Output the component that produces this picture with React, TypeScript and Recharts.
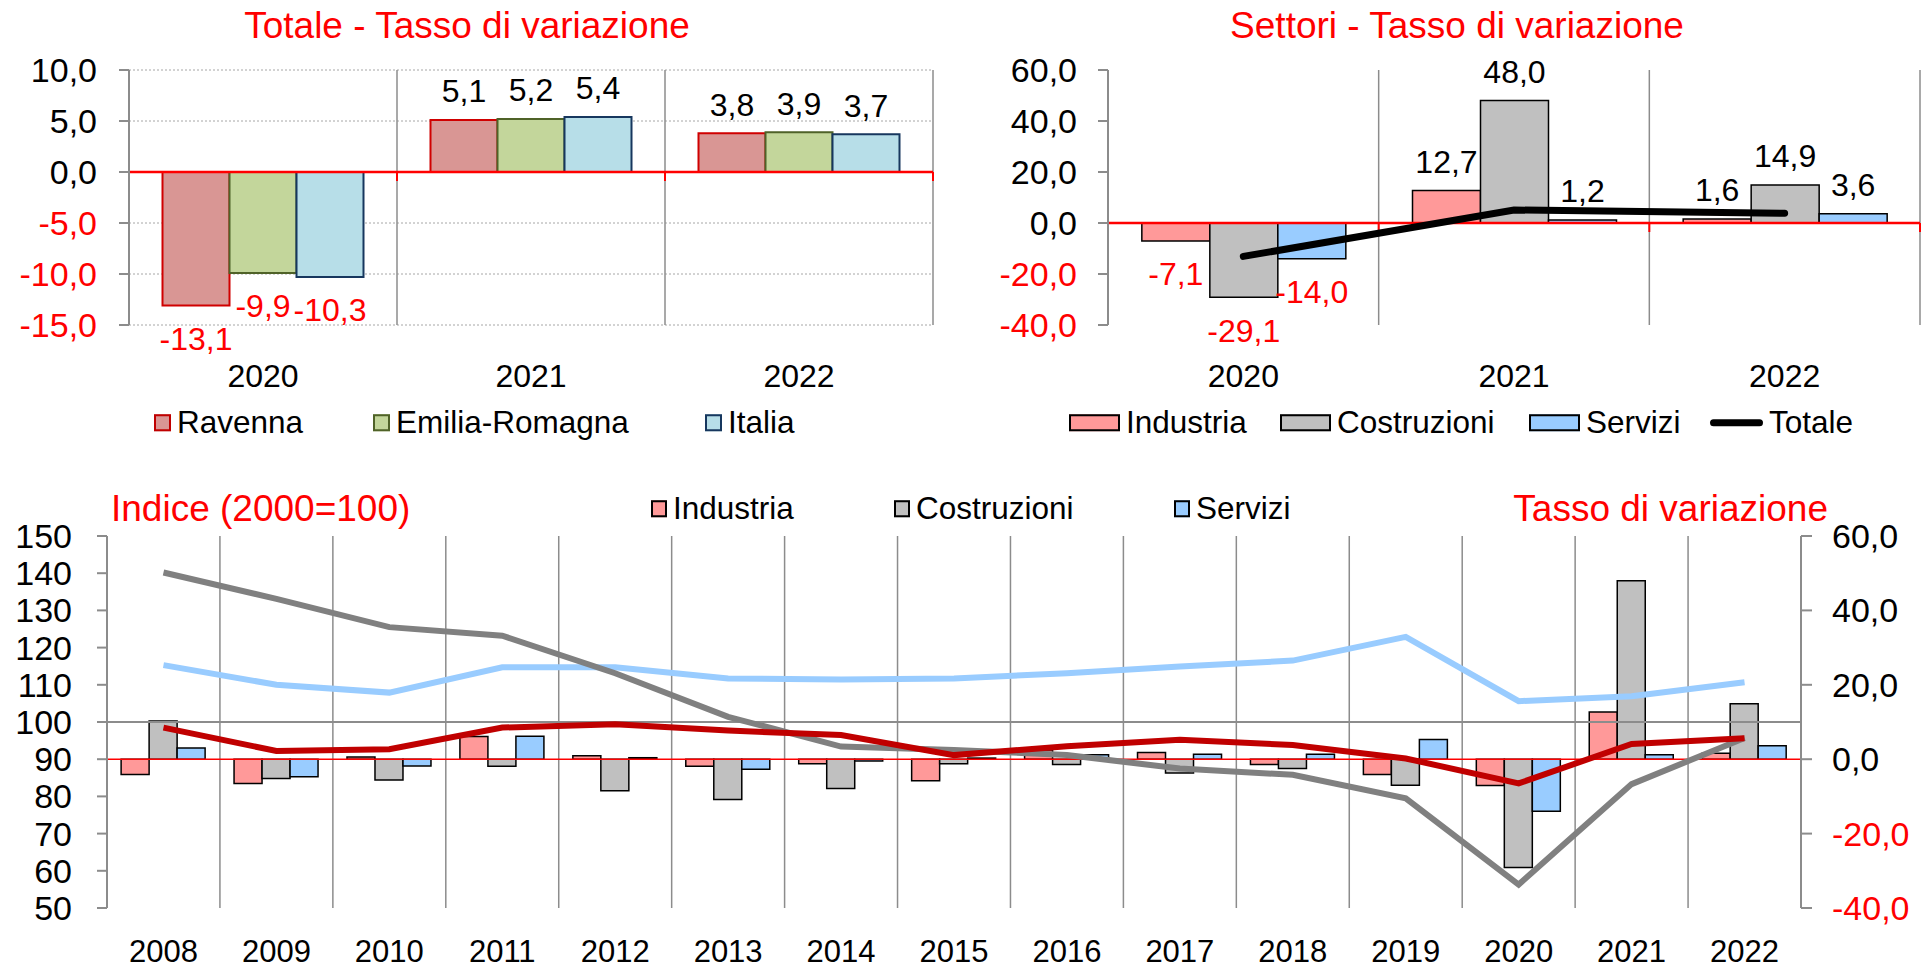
import { Bar, CartesianGrid, ComposedChart, LabelList, Line, ReferenceLine, XAxis, YAxis } from 'recharts';

const RED = '#FF0000';
const FONT = "'Liberation Sans', Arial, sans-serif";

// Totale - Tasso di variazione
const periodYears = ['2020', '2021', '2022'];
const ravenna = [-13.1, 5.1, 3.8];
const emiliaRomagna = [-9.9, 5.2, 3.9];
const italia = [-10.3, 5.4, 3.7];

// Settori - Tasso di variazione
const industriaVar = [-7.1, 12.7, 1.6];
const costruzioniVar = [-29.1, 48.0, 14.9];
const serviziVar = [-14.0, 1.2, 3.6];
const totaleVar = [-13.1, 5.1, 3.8];

// serie storica
const years = ['2008', '2009', '2010', '2011', '2012', '2013', '2014', '2015', '2016', '2017', '2018', '2019', '2020', '2021', '2022'];
const industriaTasso = [-4.1, -6.5, 0.6, 6.1, 0.9, -1.9, -1.2, -5.8, 2.5, 1.8, -1.4, -4.1, -7.1, 12.7, 1.6];
const costruzioniTasso = [10.3, -5.2, -5.6, -1.9, -8.5, -10.8, -7.9, -1.2, -1.4, -3.7, -2.5, -7.0, -29.1, 48.0, 14.9];
const serviziTasso = [3.0, -4.7, -1.8, 6.2, 0.4, -2.7, -0.5, 0.3, 1.2, 1.3, 1.3, 5.3, -14.0, 1.2, 3.6];
const industriaIndice = [98.5, 92.2, 92.7, 98.5, 99.4, 97.7, 96.5, 91.1, 93.5, 95.2, 93.8, 90.2, 83.5, 94.1, 95.6];
const costruzioniIndice = [140.2, 133.1, 125.5, 123.2, 113.1, 101.4, 93.4, 92.5, 91.1, 87.5, 85.8, 79.5, 56.3, 83.3, 95.7];
const serviziIndice = [115.3, 110.0, 107.9, 114.7, 114.7, 111.7, 111.4, 111.7, 113.1, 114.9, 116.5, 122.9, 105.6, 106.9, 110.7];

const totTicks = [-15, -10, -5, 0, 5, 10];
const setTicks = [-40, -20, 0, 20, 40, 60];
const idxTicks = [50, 60, 70, 80, 90, 100, 110, 120, 130, 140, 150];

const fmt = (v: number) => v.toFixed(1).replace('.', ',');

const totData = periodYears.map((year, i) => ({ year, ravenna: ravenna[i], er: emiliaRomagna[i], italia: italia[i] }));
const setData = periodYears.map((year, i) => ({
  year,
  industria: industriaVar[i],
  costruzioni: costruzioniVar[i],
  servizi: serviziVar[i],
  totale: totaleVar[i],
}));
const histData = years.map((year, i) => ({
  year,
  indT: industriaTasso[i],
  cosT: costruzioniTasso[i],
  serT: serviziTasso[i],
  indI: industriaIndice[i],
  cosI: costruzioniIndice[i],
  serI: serviziIndice[i],
}));

function ValueTick(props: any) {
  const { x, y, payload, textAnchor, fontSize = 34, decimals = true } = props;
  const v = Number(payload.value);
  return (
    <text x={x} y={y} dy="0.355em" textAnchor={textAnchor} fontSize={fontSize} fontFamily={FONT} fill={v < 0 ? RED : '#000'}>
      {decimals ? fmt(v) : String(v)}
    </text>
  );
}

function BarValueLabel(props: any) {
  const { x, y, width, height, value } = props;
  const v = Number(value);
  const top = Math.min(y, y + height);
  const bottom = Math.max(y, y + height);
  const cx = x + width / 2;
  if (v >= 0) {
    return (
      <text x={cx} y={top - 29} dy="0.355em" textAnchor="middle" fontSize={32} fontFamily={FONT} fill="#000">
        {fmt(v)}
      </text>
    );
  }
  return (
    <text x={cx} y={bottom + 33} dy="0.355em" textAnchor="middle" fontSize={32} fontFamily={FONT} fill={RED}>
      {fmt(v)}
    </text>
  );
}

// red category axis drawn on the zero line, with small ticks between the groups
function ZeroAxis(props: any) {
  const { x1, x2, y1 } = props;
  const n = 3;
  const step = (x2 - x1) / n;
  return (
    <g>
      <line x1={x1} x2={x2} y1={y1} y2={y1} stroke={RED} strokeWidth={2.5} />
      {Array.from({ length: n + 1 }, (_, i) => (
        <line key={i} x1={x1 + step * i} x2={x1 + step * i} y1={y1} y2={y1 + 9} stroke={RED} strokeWidth={2} />
      ))}
    </g>
  );
}

const thirds = ({ offset }: any) => [1, 2, 3].map((i) => offset.left + (offset.width * i) / 3);
const fifteenths = ({ offset }: any) => Array.from({ length: 14 }, (_, i) => offset.left + (offset.width * (i + 1)) / 15);

function LegendEntry({ left, top, label, fill, stroke, w = 17, h = 17, line = false }: any) {
  return (
    <div
      style={{
        position: 'absolute',
        left,
        top,
        transform: 'translateY(-50%)',
        display: 'flex',
        alignItems: 'center',
        gap: 6,
        fontSize: 31.5,
        lineHeight: 1,
        whiteSpace: 'nowrap',
      }}
    >
      {line ? (
        <span style={{ width: w, height: 7, background: stroke, borderRadius: 4 }} />
      ) : (
        <span style={{ width: w, height: h, background: fill, border: `2px solid ${stroke}`, boxSizing: 'border-box' }} />
      )}
      <span>{label}</span>
    </div>
  );
}

function Title({ text, center, left, right, top }: any) {
  const style: any = { position: 'absolute', top, transform: 'translateY(-50%)', fontSize: 37, color: RED, lineHeight: 1, whiteSpace: 'nowrap' };
  if (center !== undefined) {
    style.left = center;
    style.transform = 'translate(-50%, -50%)';
  }
  if (left !== undefined) style.left = left;
  if (right !== undefined) style.right = 1930 - right;
  return <div style={style}>{text}</div>;
}

function TotaleChart() {
  return (
    <div style={{ position: 'absolute', left: 0, top: 0 }}>
      <ComposedChart width={960} height={450} data={totData} margin={{ top: 70, right: 27, bottom: 0, left: 0 }} barCategoryGap="12.5%" barGap={0}>
        <CartesianGrid vertical={false} stroke="#A6A6A6" strokeDasharray="2 2" />
        <CartesianGrid horizontal={false} stroke="#8C8C8C" strokeWidth={1.5} verticalCoordinatesGenerator={thirds} />
        <XAxis dataKey="year" height={125} axisLine={false} tickLine={false} tickSize={0} tickMargin={39} tick={{ fontSize: 32, fill: '#000', fontFamily: FONT }} />
        <YAxis
          domain={[-15, 10]}
          ticks={totTicks}
          width={129}
          axisLine={{ stroke: '#8C8C8C', strokeWidth: 2 }}
          tickLine={{ stroke: '#8C8C8C', strokeWidth: 2 }}
          tickSize={10}
          tickMargin={22}
          tick={<ValueTick />}
        />
        <Bar dataKey="ravenna" fill="#D99694" stroke="#D00000" strokeWidth={2} isAnimationActive={false}>
          <LabelList dataKey="ravenna" content={BarValueLabel} />
        </Bar>
        <Bar dataKey="er" fill="#C3D69B" stroke="#4F6228" strokeWidth={2} isAnimationActive={false}>
          <LabelList dataKey="er" content={BarValueLabel} />
        </Bar>
        <Bar dataKey="italia" fill="#B7DEE8" stroke="#17375E" strokeWidth={2} isAnimationActive={false}>
          <LabelList dataKey="italia" content={BarValueLabel} />
        </Bar>
        <ReferenceLine y={0} shape={ZeroAxis} />
      </ComposedChart>
    </div>
  );
}

function SettoriChart() {
  return (
    <div style={{ position: 'absolute', left: 960, top: 0 }}>
      <ComposedChart width={970} height={450} data={setData} margin={{ top: 70, right: 10, bottom: 0, left: 0 }} barCategoryGap="12.5%" barGap={0}>
        <CartesianGrid horizontal={false} stroke="#8C8C8C" strokeWidth={1.5} verticalCoordinatesGenerator={thirds} />
        <XAxis dataKey="year" height={125} axisLine={false} tickLine={false} tickSize={0} tickMargin={39} tick={{ fontSize: 32, fill: '#000', fontFamily: FONT }} />
        <YAxis
          domain={[-40, 60]}
          ticks={setTicks}
          width={148}
          axisLine={{ stroke: '#8C8C8C', strokeWidth: 2 }}
          tickLine={{ stroke: '#8C8C8C', strokeWidth: 2 }}
          tickSize={10}
          tickMargin={21}
          tick={<ValueTick />}
        />
        <Bar dataKey="industria" fill="#FF9999" stroke="#000" strokeWidth={1.5} isAnimationActive={false}>
          <LabelList dataKey="industria" content={BarValueLabel} />
        </Bar>
        <Bar dataKey="costruzioni" fill="#C0C0C0" stroke="#000" strokeWidth={1.5} isAnimationActive={false}>
          <LabelList dataKey="costruzioni" content={BarValueLabel} />
        </Bar>
        <Bar dataKey="servizi" fill="#99CCFF" stroke="#000" strokeWidth={1.5} isAnimationActive={false}>
          <LabelList dataKey="servizi" content={BarValueLabel} />
        </Bar>
        <ReferenceLine y={0} shape={ZeroAxis} />
        <Line dataKey="totale" stroke="#000" strokeWidth={7} strokeLinecap="round" dot={false} isAnimationActive={false} />
      </ComposedChart>
    </div>
  );
}

function StoricoChart() {
  return (
    <div style={{ position: 'absolute', left: 0, top: 450 }}>
      <ComposedChart width={1930} height={520} data={histData} margin={{ top: 86, right: 0, bottom: 0, left: 0 }} barCategoryGap="12.5%" barGap={0}>
        <CartesianGrid yAxisId="idx" horizontal={false} stroke="#8C8C8C" strokeWidth={1.5} verticalCoordinatesGenerator={fifteenths} />
        <XAxis dataKey="year" height={62} axisLine={false} tickLine={false} tickSize={0} tickMargin={32} tick={{ fontSize: 31, fill: '#000', fontFamily: FONT }} />
        <YAxis
          yAxisId="idx"
          orientation="left"
          domain={[50, 150]}
          ticks={idxTicks}
          width={107}
          axisLine={{ stroke: '#8C8C8C', strokeWidth: 2 }}
          tickLine={{ stroke: '#8C8C8C', strokeWidth: 2 }}
          tickSize={10}
          tickMargin={25}
          tick={<ValueTick decimals={false} />}
        />
        <YAxis
          yAxisId="var"
          orientation="right"
          domain={[-40, 60]}
          ticks={setTicks}
          width={129}
          axisLine={{ stroke: '#8C8C8C', strokeWidth: 2 }}
          tickLine={{ stroke: '#8C8C8C', strokeWidth: 2 }}
          tickSize={11}
          tickMargin={20}
          tick={<ValueTick />}
        />
        <ReferenceLine yAxisId="idx" y={100} stroke="#8C8C8C" strokeWidth={2} />
        <ReferenceLine yAxisId="var" y={0} stroke={RED} strokeWidth={1.5} />
        <Bar yAxisId="var" dataKey="indT" fill="#FF9999" stroke="#000" strokeWidth={1.5} isAnimationActive={false} />
        <Bar yAxisId="var" dataKey="cosT" fill="#C0C0C0" stroke="#000" strokeWidth={1.5} isAnimationActive={false} />
        <Bar yAxisId="var" dataKey="serT" fill="#99CCFF" stroke="#000" strokeWidth={1.5} isAnimationActive={false} />
        <Line yAxisId="idx" dataKey="serI" stroke="#99CCFF" strokeWidth={6} dot={false} isAnimationActive={false} />
        <Line yAxisId="idx" dataKey="cosI" stroke="#808080" strokeWidth={6} dot={false} isAnimationActive={false} />
        <Line yAxisId="idx" dataKey="indI" stroke="#C00000" strokeWidth={6} dot={false} isAnimationActive={false} />
      </ComposedChart>
    </div>
  );
}

export default function App() {
  return (
    <div style={{ position: 'absolute', left: 0, top: 0, width: 1930, height: 970, background: '#fff', fontFamily: FONT, color: '#000', overflow: 'hidden' }}>
      <TotaleChart />
      <SettoriChart />
      <StoricoChart />

      <Title text="Totale - Tasso di variazione" center={467} top={25} />
      <Title text="Settori - Tasso di variazione" center={1457} top={25} />
      <Title text="Indice (2000=100)" left={111} top={508} />
      <Title text="Tasso di variazione" right={1828} top={508} />

      <LegendEntry left={154} top={423} label="Ravenna" fill="#D99694" stroke="#C00000" />
      <LegendEntry left={373} top={423} label="Emilia-Romagna" fill="#C3D69B" stroke="#4F6228" />
      <LegendEntry left={705} top={423} label="Italia" fill="#B7DEE8" stroke="#17375E" />

      <LegendEntry left={1069} top={423} label="Industria" fill="#FF9999" stroke="#000" w={51} />
      <LegendEntry left={1280} top={423} label="Costruzioni" fill="#C0C0C0" stroke="#000" w={51} />
      <LegendEntry left={1529} top={423} label="Servizi" fill="#99CCFF" stroke="#000" w={51} />
      <LegendEntry left={1710} top={423} label="Totale" stroke="#000" w={53} line />

      <LegendEntry left={651} top={509} label="Industria" fill="#FF9999" stroke="#000" w={16} />
      <LegendEntry left={894} top={509} label="Costruzioni" fill="#C0C0C0" stroke="#000" w={16} />
      <LegendEntry left={1174} top={509} label="Servizi" fill="#99CCFF" stroke="#000" w={16} />
    </div>
  );
}
